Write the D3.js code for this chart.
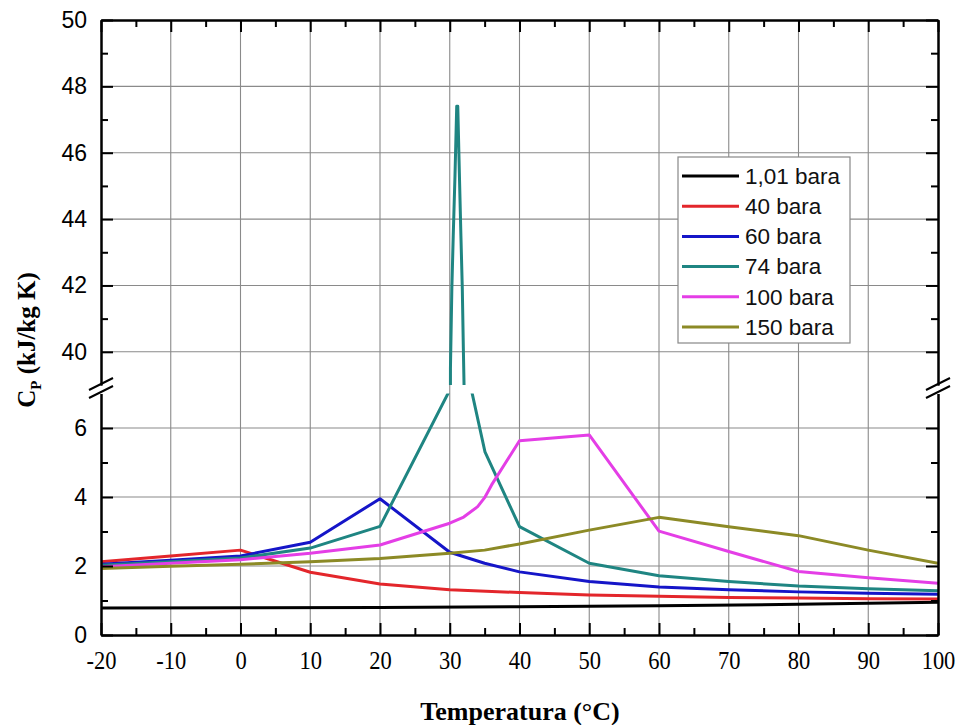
<!DOCTYPE html>
<html>
<head>
<meta charset="utf-8">
<script src="https://cdn.jsdelivr.net/npm/d3@7"></script>
<style>
  html, body { margin: 0; padding: 0; background: #fff; }
  svg { display: block; }
</style>
</head>
<body>
<svg id="chart" width="959" height="725"></svg>
<script>
// ---------------- data ----------------
const xTicks = [-20, -10, 0, 10, 20, 30, 40, 50, 60, 70, 80, 90, 100];
const yTicksUpper = [40, 42, 44, 46, 48, 50];
const yTicksLower = [0, 2, 4, 6];

const seriesNames = ["1,01 bara", "40 bara", "60 bara", "74 bara", "100 bara", "150 bara"];
const seriesColors = ["#000000", "#e3262b", "#1515c8", "#1f8582", "#e43ee6", "#8c8a26"];

const temp101 = [-20, 0, 20, 40, 60, 80, 100];
const cp101   = [0.78, 0.79, 0.80, 0.82, 0.85, 0.89, 0.95];

const temp40 = [-20, -10, 0, 10, 20, 30, 40, 50, 60, 70, 80, 90, 100];
const cp40   = [2.12, 2.29, 2.46, 1.82, 1.48, 1.31, 1.23, 1.16, 1.12, 1.09, 1.07, 1.05, 1.04];

const temp60 = [-20, -10, 0, 10, 20, 30, 35, 40, 50, 60, 70, 80, 90, 100];
const cp60   = [2.05, 2.17, 2.29, 2.69, 3.95, 2.40, 2.08, 1.83, 1.55, 1.39, 1.31, 1.25, 1.21, 1.18];

const temp74 = [-20, -10, 0, 10, 20, 30, 30.1, 30.3, 30.5, 30.75, 31.0, 31.15, 31.4, 31.6, 31.8, 31.95, 32.05, 33.0, 35.05, 40, 50, 60, 70, 80, 90, 100];
const cp74   = [2.02, 2.12, 2.23, 2.52, 3.15, 7.10, 39.5, 41.9, 43.5, 45.3, 47.4, 47.4, 45.2, 43.5, 41.9, 40.1, 39.0, 7.20, 5.31, 3.14, 2.08, 1.72, 1.55, 1.42, 1.34, 1.28];

const temp100 = [-20, -10, 0, 10, 20, 30, 32, 34, 35, 36, 40, 50, 60, 70, 80, 90, 100];
const cp100   = [1.98, 2.08, 2.18, 2.37, 2.61, 3.24, 3.42, 3.72, 3.98, 4.35, 5.63, 5.80, 3.01, 2.42, 1.84, 1.66, 1.50];

const temp150 = [-20, -10, 0, 10, 20, 30, 35, 40, 50, 60, 70, 80, 90, 100];
const cp150   = [1.93, 1.99, 2.05, 2.12, 2.22, 2.37, 2.46, 2.64, 3.04, 3.41, 3.14, 2.88, 2.46, 2.08];

const seriesTemps = [temp101, temp40, temp60, temp74, temp100, temp150];
const seriesCps   = [cp101, cp40, cp60, cp74, cp100, cp150];

// ---------------- layout ----------------
const L = 101, R = 938, T = 20, B = 635;
const upBottom = 385, loTop = 393.5;

const svg = d3.select("#chart");
const x = d3.scaleLinear().domain([-20, 100]).range([L, R]);
const yUp = d3.scaleLinear().domain([39, 50]).range([upBottom, T]);
const yLo = d3.scaleLinear().domain([0, 7]).range([B, loTop]);

const serif = "'Liberation Serif','Times New Roman',Times,serif";
const sans = "'Liberation Sans',Arial,Helvetica,sans-serif";

const defs = svg.append("defs");
defs.append("clipPath").attr("id", "clipUp").append("rect")
  .attr("x", L).attr("y", T).attr("width", R - L).attr("height", upBottom - T);
defs.append("clipPath").attr("id", "clipLo").append("rect")
  .attr("x", L).attr("y", loTop).attr("width", R - L).attr("height", B - loTop);

// ---------------- grid ----------------
const grid = svg.append("g").attr("stroke", "#8a8a8a").attr("stroke-width", 1.1);
grid.selectAll("line.v").data(xTicks.slice(1, -1)).join("line")
  .attr("x1", d => x(d)).attr("x2", d => x(d)).attr("y1", T).attr("y2", B);
grid.selectAll("line.hu").data(yTicksUpper.slice(0, -1)).join("line")
  .attr("x1", L).attr("x2", R).attr("y1", d => yUp(d)).attr("y2", d => yUp(d));
grid.selectAll("line.hl").data(yTicksLower.slice(1)).join("line")
  .attr("x1", L).attr("x2", R).attr("y1", d => yLo(d)).attr("y2", d => yLo(d));

// ---------------- series ----------------
function drawSeries(scaleY, clipId) {
  const g = svg.append("g").attr("clip-path", `url(#${clipId})`);
  seriesCps.forEach((vals, i) => {
    const pts = vals.map((v, k) => [seriesTemps[i][k], v]);
    const line = d3.line().x(d => x(d[0])).y(d => scaleY(d[1]));
    g.append("path").datum(pts)
      .attr("d", line)
      .attr("fill", "none")
      .attr("stroke", seriesColors[i])
      .attr("stroke-width", 3)
      .attr("stroke-linejoin", "round");
  });
}
drawSeries(yLo, "clipLo");
drawSeries(yUp, "clipUp");

// ---------------- axes ----------------
function styleAxis(g) {
  g.selectAll(".domain").attr("stroke", "#000").attr("stroke-width", 2);
  g.selectAll(".tick line").attr("stroke", "#000").attr("stroke-width", 2);
}
const minorX = d3.range(-15, 100, 10);

// bottom
const gB = svg.append("g").attr("transform", `translate(0,${B})`)
  .call(d3.axisBottom(x).tickValues(xTicks).tickSizeInner(-12).tickSizeOuter(0).tickPadding(16).tickFormat(d => String(d)));
gB.selectAll(".tick text").attr("font-family", serif).attr("font-size", 25).attr("fill", "#000")
  .attr("transform", "scale(0.9,1)");
styleAxis(gB);
const gBm = svg.append("g").attr("transform", `translate(0,${B})`)
  .call(d3.axisBottom(x).tickValues(minorX).tickSizeInner(-7).tickSizeOuter(0).tickFormat(""));
styleAxis(gBm);

// top
const gT = svg.append("g").attr("transform", `translate(0,${T})`)
  .call(d3.axisTop(x).tickValues(xTicks).tickSizeInner(-12).tickSizeOuter(0).tickFormat(""));
styleAxis(gT);
const gTm = svg.append("g").attr("transform", `translate(0,${T})`)
  .call(d3.axisTop(x).tickValues(minorX).tickSizeInner(-7).tickSizeOuter(0).tickFormat(""));
styleAxis(gTm);

// left / right, both segments
function yAxes(scale, major, minor) {
  const gl = svg.append("g").attr("transform", `translate(${L},0)`)
    .call(d3.axisLeft(scale).tickValues(major).tickSizeInner(-12).tickSizeOuter(0).tickPadding(14).tickFormat(d => String(d)));
  gl.selectAll(".tick text").attr("font-family", sans).attr("font-size", 23).attr("fill", "#000");
  styleAxis(gl);
  const glm = svg.append("g").attr("transform", `translate(${L},0)`)
    .call(d3.axisLeft(scale).tickValues(minor).tickSizeInner(-7).tickSizeOuter(0).tickFormat(""));
  styleAxis(glm);
  const gr = svg.append("g").attr("transform", `translate(${R},0)`)
    .call(d3.axisRight(scale).tickValues(major).tickSizeInner(-12).tickSizeOuter(0).tickFormat(""));
  styleAxis(gr);
  const grm = svg.append("g").attr("transform", `translate(${R},0)`)
    .call(d3.axisRight(scale).tickValues(minor).tickSizeInner(-7).tickSizeOuter(0).tickFormat(""));
  styleAxis(grm);
}
yAxes(yUp, yTicksUpper, [41, 43, 45, 47, 49]);
yAxes(yLo, yTicksLower, [1, 3, 5]);

// break marks
const brk = svg.append("g").attr("stroke", "#000").attr("stroke-width", 2);
[L, R].forEach(ax => {
  [384, 392].forEach(yy => {
    brk.append("line").attr("x1", ax - 12).attr("y1", yy + 6).attr("x2", ax + 12).attr("y2", yy - 6);
  });
});

// ---------------- legend ----------------
const lg = svg.append("g");
lg.append("rect").attr("x", 678).attr("y", 157).attr("width", 172).attr("height", 186)
  .attr("fill", "#fff").attr("stroke", "#888").attr("stroke-width", 1.2);
seriesNames.forEach((name, i) => {
  const yy = 176 + i * 30.2;
  lg.append("line").attr("x1", 682).attr("x2", 739).attr("y1", yy).attr("y2", yy)
    .attr("stroke", seriesColors[i]).attr("stroke-width", 3);
  lg.append("text").attr("x", 745).attr("y", yy).attr("dy", "0.35em")
    .attr("font-family", sans).attr("font-size", 22.5).attr("fill", "#111").text(name);
});

// ---------------- titles ----------------
svg.append("text").attr("x", 520).attr("y", 720).attr("text-anchor", "middle")
  .attr("font-family", serif).attr("font-weight", "bold").attr("font-size", 26)
  .text("Temperatura (°C)");

const yt = svg.append("text").attr("transform", "translate(35,340) rotate(-90)")
  .attr("text-anchor", "middle").attr("font-family", serif).attr("font-weight", "bold").attr("font-size", 25);
yt.append("tspan").text("C");
yt.append("tspan").attr("font-size", 15).attr("dy", 6).text("P");
yt.append("tspan").attr("dy", -6).text(" (kJ/kg K)");
</script>
</body>
</html>
